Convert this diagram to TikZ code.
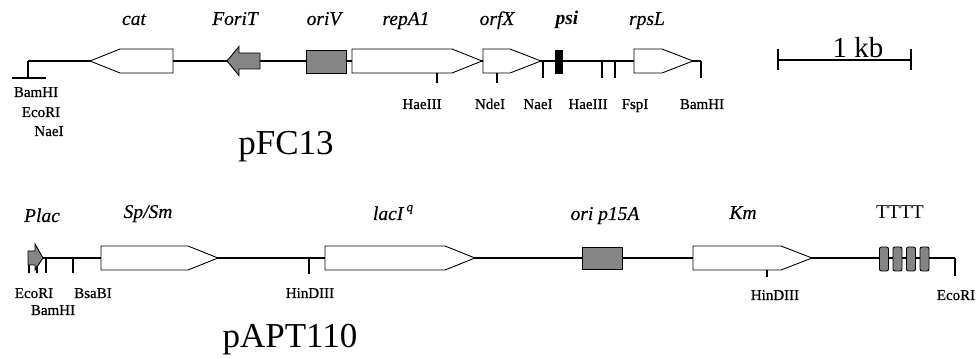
\documentclass[tikz,border=0pt]{standalone}
\usepackage{fontspec}
\setmainfont{Liberation Serif}
\newfontfamily\sitefont[FakeBold=0.6]{Liberation Serif}
\newfontfamily\labelfont[FakeBold=0.4]{Liberation Serif Italic}
\begin{document}
\begin{tikzpicture}[x=1pt,y=-1pt,
  backbone/.style={line width=2.4pt},
  genebox/.style={draw,line width=0.9pt,fill=white,line join=miter},
  grayelem/.style={draw,line width=0.9pt,fill=black!48},
  sitetick/.style={line width=1.1pt},
  genelabel/.style={font=\labelfont\fontsize{19.5}{19.5}\selectfont,anchor=base,inner sep=0pt},
  sitelabel/.style={font=\sitefont\fontsize{15}{15}\selectfont,anchor=base,inner sep=0pt},
  plasmid/.style={font=\fontsize{35}{35}\selectfont,anchor=base,inner sep=0pt}]
\useasboundingbox (0,0) rectangle (978,358);

% ---------------- pFC13 ----------------
\coordinate (a0) at (28,61);
\coordinate (a1) at (701,61);
\draw[backbone] (a0) -- (a1);
% BamHI/EcoRI/NaeI end
\coordinate (a0b) at (28,78);
\draw[sitetick] (a0) -- (a0b);
\draw[sitetick] (12,78) -- (46,78);
% cat (leftward)
\draw[genebox] (90,61) -- (120,49) -- (173,49) -- (173,73) -- (120,73) -- cycle;
% ForiT (leftward, grey)
\draw[grayelem] (227,61) -- (239,46.5) -- (239,53) -- (260,53) -- (260,69) -- (239,69) -- (239,75.5) -- cycle;
% oriV
\draw[grayelem] (306,50) rectangle (346,73);
% repA1
\draw[genebox] (352,49) -- (452,49) -- (482,61) -- (452,73) -- (352,73) -- cycle;
% orfX
\draw[genebox] (483,49) -- (510,49) -- (541,61) -- (510,73) -- (483,73) -- cycle;
% psi
\fill (555,50) rectangle (563,74);
% rpsL
\draw[genebox] (634,49) -- (662,49) -- (693,61) -- (662,73) -- (634,73) -- cycle;
% restriction sites
\draw[sitetick] (437,73) -- (437,83);
\draw[sitetick] (497,73) -- (497,83);
\draw[sitetick] (543,61) -- (543,78);
\draw[sitetick] (602,61) -- (602,78);
\draw[sitetick] (615,61) -- (615,78);
\draw[sitetick] (a1) -- (701,78);

\node[genelabel] (lcat) at (134,25) {cat};
\node[genelabel] (lforit) at (235,25) {ForiT};
\node[genelabel] (loriv) at (324,25) {oriV};
\node[genelabel] (lrepa) at (406,25) {repA1};
\node[genelabel] (lorfx) at (497,25) {orfX};
\node[genelabel,font=\fontsize{19.5}{19.5}\selectfont\bfseries\itshape] (lpsi) at (567,25) {psi};
\node[genelabel] (lrpsl) at (647,25) {rpsL};

\node[sitelabel] (s1) at (36,97) {BamHI};
\node[sitelabel] (s2) at (41,117) {EcoRI};
\node[sitelabel] (s3) at (49,136) {NaeI};
\node[sitelabel] (s4) at (422,109) {HaeIII};
\node[sitelabel] (s5) at (490,109) {NdeI};
\node[sitelabel] (s6) at (538,109) {NaeI};
\node[sitelabel] (s7) at (588,109) {HaeIII};
\node[sitelabel] (s8) at (635,109) {FspI};
\node[sitelabel] (s9) at (702,109) {BamHI};

\node[plasmid] (pfc) at (286,155) {pFC13};

% scale bar
\coordinate (k0) at (778,60);
\coordinate (k1) at (911,60);
\draw[line width=1.1pt] (k0) -- (k1);
\draw[line width=1.1pt] (778,49) -- (778,70);
\draw[line width=1.1pt] (911,49) -- (911,70);
\node[font=\fontsize{29}{29}\selectfont,anchor=base,inner sep=0pt] (kb) at (858,58) {1 kb};

% ---------------- pAPT110 ----------------
\coordinate (b0) at (36,258);
\coordinate (b1) at (955,258);
\draw[backbone] (b0) -- (b1);
% Plac
\draw[grayelem] (28,251) -- (35,251) -- (35,244) -- (43,258) -- (35,270) -- (35,265) -- (28,265) -- cycle;
\draw[sitetick] (29,265) -- (29,273);
\draw[sitetick] (37,266) -- (37,273);
\draw[sitetick] (46,258) -- (46,273);
\draw[sitetick] (73,258) -- (73,273);
% Sp/Sm
\draw[genebox] (101,246) -- (188,246) -- (218,258) -- (188,270) -- (101,270) -- cycle;
\draw[sitetick] (309,258) -- (309,274);
% lacIq
\draw[genebox] (325,246) -- (445,246) -- (475,258) -- (445,270) -- (325,270) -- cycle;
% ori p15A
\draw[grayelem] (582,247) rectangle (622,269);
% Km
\draw[genebox] (693,246) -- (781,246) -- (812,258) -- (781,270) -- (693,270) -- cycle;
\draw[sitetick] (767,270) -- (767,277);
% terminators
\foreach \cx in {884,897.5,911,924.5}
  \draw[grayelem,rounded corners=2pt] (\cx-4.5,247) rectangle (\cx+4.5,271);
\draw[sitetick] (b1) -- (955,276);

\node[genelabel] (lplac) at (42,222) {Plac};
\node[genelabel] (lspsm) at (148,218) {Sp/Sm};
\node[genelabel] (llaci) at (393,220) {lacI\,\raisebox{0.45em}{\fontsize{13}{13}\selectfont q}};
\node[genelabel] (lori) at (605,220) {ori p15A};
\node[genelabel] (lkm) at (743,219) {Km};
\node[genelabel,font=\fontsize{19.5}{19.5}\selectfont] (lterm) at (900,219) {TTTT};

\node[sitelabel] (t1) at (34,298) {EcoRI};
\node[sitelabel] (t2) at (53,315) {BamHI};
\node[sitelabel] (t3) at (93,298) {BsaBI};
\node[sitelabel] (t4) at (310,298) {HinDIII};
\node[sitelabel] (t5) at (775,300) {HinDIII};
\node[sitelabel] (t6) at (956,300) {EcoRI};

\node[plasmid] (papt) at (290,348) {pAPT110};
\end{tikzpicture}
\end{document}
